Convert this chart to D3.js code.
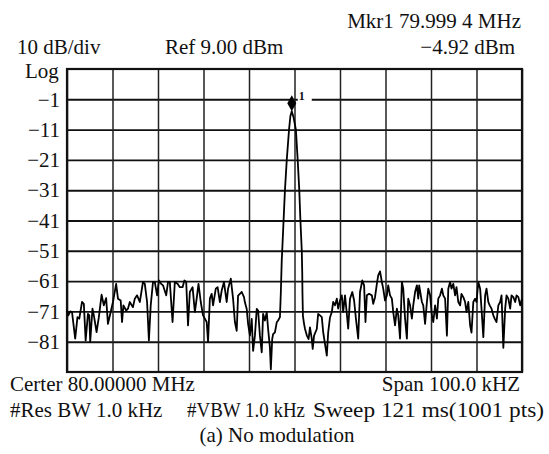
<!DOCTYPE html>
<html>
<head>
<meta charset="utf-8">
<script src="https://cdn.jsdelivr.net/npm/d3@7"></script>
<style>
  html, body { margin: 0; padding: 0; background: #fff; }
  svg { display: block; }
  text { font-family: "Liberation Serif", "Times New Roman", serif; fill: #111; }
</style>
</head>
<body>
<svg id="chart" width="549" height="454"></svg>
<script>
// ---- data (frequency offset from centre, kHz ; level, dBm) ----
const freqOffsetKHz = [
  -50.0,-49.7,-49.3,-48.9,-48.2,-47.7,-47.3,-46.7,-46.3,-45.9,-45.4,-45.1,-44.9,-44.4,-44.1,-43.5,-43.0,-42.4,-41.9,-41.4,
  -41.0,-40.4,-39.9,-39.2,-38.8,-38.2,-37.9,-37.6,-37.0,-36.6,-36.2,-35.5,-35.1,-34.6,-34.0,-33.3,-32.9,-32.4,-32.0,-31.6,
  -31.1,-30.7,-30.2,-29.8,-29.3,-28.9,-28.2,-27.8,-27.4,-26.8,-26.3,-25.7,-25.2,-24.6,-24.2,-23.8,-23.4,-23.0,-22.4,-21.9,
  -21.5,-21.1,-20.6,-20.1,-19.7,-19.3,-19.0,-18.6,-18.2,-17.9,-17.3,-16.9,-16.4,-16.0,-15.5,-14.9,-14.6,-14.0,-13.5,-13.1,
  -12.7,-12.4,-12.0,-11.6,-11.1,-10.9,-10.5,-10.2,-9.8,-9.4,-9.1,-8.7,-8.3,-8.0,-7.6,-7.2,-6.9,-6.5,-6.1,-5.8,
  -5.4,-5.2,-4.9,-4.7,-4.3,-3.9,-3.6,-3.2,-3.0,
  -2.8,-2.7,-2.4,-2.1,-1.7,-1.2,-0.9,-0.6,-0.2,0.3,0.7,1.05,1.3,1.6,1.7,1.75,1.85,
  2.1,2.3,2.7,3.1,3.4,3.8,4.0,4.3,4.9,5.2,5.6,6.0,6.3,6.7,7.1,7.4,7.8,8.2,8.5,8.9,
  9.3,9.6,10.0,10.4,10.7,11.1,11.5,11.8,12.2,12.7,13.1,13.5,14.0,14.4,14.9,15.3,15.6,15.9,16.4,17.0,
  17.3,17.7,18.1,18.4,18.8,19.2,19.5,19.9,20.3,20.6,21.0,21.4,21.7,22.1,22.5,22.8,23.2,23.6,23.9,24.3,
  24.7,25.0,25.4,25.8,26.1,26.5,26.9,27.2,27.4,28.0,28.3,28.7,29.1,29.4,29.8,30.2,30.5,30.9,31.3,31.6,
  32.0,32.4,32.7,33.1,33.5,33.8,34.2,34.5,34.9,35.3,35.6,36.0,36.4,36.7,37.1,37.5,37.8,38.2,38.6,38.9,
  39.3,39.7,40.0,40.4,40.8,41.1,41.5,41.9,42.2,42.6,42.9,43.3,43.7,44.0,44.4,44.8,45.2,45.5,45.9,46.3,
  46.6,47.0,47.4,47.7,48.1,48.5,48.8,49.2,49.6,50.0
];
const levelDBm = [
  -70.7,-72.3,-71.0,-71.2,-80.0,-72.9,-73.4,-67.9,-68.5,-80.6,-71.8,-72.3,-81.1,-70.1,-72.3,-77.8,-72.9,-65.5,-69.0,-66.6,
  -75.1,-71.2,-67.9,-61.9,-66.8,-67.4,-74.5,-69.0,-70.7,-70.1,-67.9,-69.6,-66.8,-65.7,-67.9,-61.3,-61.9,-67.9,-80.6,-69.0,
  -61.3,-61.3,-65.7,-60.8,-61.9,-62.4,-65.7,-61.3,-61.3,-74.5,-61.3,-61.9,-63.0,-63.0,-60.8,-61.3,-75.6,-64.6,-63.0,-71.2,
  -66.8,-61.9,-67.9,-72.3,-73.4,-74.5,-81.1,-66.8,-65.2,-69.0,-63.5,-63.0,-67.9,-64.1,-61.3,-67.9,-63.5,-60.2,-66.8,-74.5,
  -77.4,-65.8,-65.2,-64.6,-66.3,-68.0,-70.2,-75.1,-79.0,-73.5,-84.0,-79.0,-70.2,-70.7,-79.0,-84.5,-71.8,-74.0,-71.3,-76.8,
  -82.9,-90.1,-80.1,-78.5,-77.9,-74.6,-74.0,-72.9,-64.6,
  -54.0,-51.0,-41.0,-31.0,-21.0,-11.0,-6.5,-4.92,-7.0,-11.0,-21.0,-31.0,-41.0,-51.0,-58.0,-65.0,-72.5,
  -75.1,-76.7,-78.9,-80.1,-76.3,-80.1,-83.4,-79.0,-76.8,-71.8,-72.3,-72.9,-77.8,-81.7,-85.6,-78.0,-73.0,-71.2,-67.9,-69.0,
  -66.8,-70.1,-67.4,-65.7,-71.2,-65.7,-71.8,-76.7,-66.8,-64.6,-67.4,-73.4,-80.0,-64.6,-60.8,-62.4,-74.5,-65.7,-65.2,-65.7,
  -68.5,-66.3,-61.9,-59.1,-57.8,-61.3,-63.5,-67.4,-65.7,-62.4,-65.7,-66.8,-71.2,-75.6,-70.1,-72.3,-80.0,-61.3,-63.5,-73.4,
  -80.0,-66.8,-69.0,-73.4,-69.0,-64.6,-62.4,-66.8,-62.4,-67.9,-69.0,-75.1,-67.9,-63.5,-65.7,-72.3,-74.5,-69.0,-73.4,-66.8,
  -65.7,-63.5,-65.7,-66.8,-79.0,-63.5,-61.3,-63.5,-61.9,-65.7,-63.0,-67.9,-69.0,-65.2,-66.3,-67.9,-71.2,-67.9,-75.6,-78.0,
  -67.9,-66.8,-67.9,-61.3,-63.5,-70.1,-79.5,-65.7,-63.5,-67.9,-69.0,-70.1,-72.3,-73.4,-74.5,-69.0,-67.9,-65.7,-83.0,-70.1,
  -65.7,-66.8,-70.1,-65.7,-66.3,-67.9,-65.7,-66.3,-69.0,-66.8
];
const xTickValues = [-50,-40,-30,-20,-10,0,10,20,30,40,50];
const yTickValues = [-1,-11,-21,-31,-41,-51,-61,-71,-81];
const yTickLabels = ["−1","−11","−21","−31","−41","−51","−61","−71","−81"];
const refLevel = 9, bottomLevel = -91;
const markerOffsetKHz = -0.6, markerLevel = -4.92;

// ---- layout ----
const svg = d3.select("#chart");
const L = 67, R = 522, T = 69, B = 372;
const x = d3.scaleLinear().domain([-50, 50]).range([L, R]);
const y = d3.scaleLinear().domain([bottomLevel, refLevel]).range([B, T]);

svg.append("rect").attr("width", 549).attr("height", 454).attr("fill", "#fff");

// horizontal grid + labels
const yAxis = d3.axisLeft(y).tickValues(yTickValues)
  .tickSize(-(R - L)).tickPadding(7)
  .tickFormat((d, i) => yTickLabels[i]);
const gy = svg.append("g").attr("transform", `translate(${L},0)`).call(yAxis);
gy.select(".domain").remove();
gy.selectAll(".tick line").attr("stroke", "#111").attr("stroke-width", 1.9);
gy.selectAll(".tick text").attr("font-size", 21).attr("font-family", "Liberation Serif").attr("fill", "#111");

// vertical grid
const xAxis = d3.axisBottom(x).tickValues(xTickValues).tickSize(-(B - T)).tickFormat("");
const gx = svg.append("g").attr("transform", `translate(0,${B})`).call(xAxis);
gx.select(".domain").remove();
gx.selectAll(".tick line").attr("stroke", "#222").attr("stroke-width", 1.5);

// border
svg.append("rect").attr("x", L).attr("y", T).attr("width", R - L).attr("height", B - T)
  .attr("fill", "none").attr("stroke", "#111").attr("stroke-width", 2.2);

// trace
const pts = freqOffsetKHz.map((f, i) => [f, levelDBm[i]]);
const line = d3.line().x(d => x(d[0])).y(d => y(d[1]));
svg.append("path").datum(pts).attr("d", line)
  .attr("fill", "none").attr("stroke", "#000").attr("stroke-width", 1.8)
  .attr("stroke-linejoin", "round");

// marker
const mx = x(markerOffsetKHz), my = y(markerLevel);
svg.append("path")
  .attr("d", `M${mx},${my - 16} L${mx + 4.5},${my - 8} L${mx},${my} L${mx - 4.5},${my - 8} Z`)
  .attr("fill", "#000");
svg.append("rect").attr("x", mx + 6).attr("y", my - 22).attr("width", 14).attr("height", 13).attr("fill", "#fff");
svg.append("text").attr("x", mx + 7).attr("y", my - 11).attr("font-size", 12)
  .attr("font-family", "Liberation Sans").attr("font-weight", "bold").text("1");

// texts
const t = (s, xx, yy, anchor, len) => {
  const el = svg.append("text").attr("x", xx).attr("y", yy)
    .attr("text-anchor", anchor || "start").attr("font-size", 21).text(s);
  if (len) el.attr("textLength", len).attr("lengthAdjust", "spacingAndGlyphs");
  return el;
};
t("Mkr1 79.999 4 MHz", 521, 28, "end");
t("10 dB/div", 17, 54, "start");
t("Ref 9.00 dBm", 165, 54, "start");
t("−4.92 dBm", 515, 54, "end");
t("Log", 25, 78, "start");
t("Certer 80.00000 MHz", 10, 391, "start");
t("Span 100.0 kHZ", 520, 391, "end");
t("#Res BW 1.0 kHz", 10, 417, "start");
t("#VBW 1.0 kHz", 187, 417, "start", 118);
t("Sweep 121 ms(1001 pts)", 313, 417, "start", 231);
t("(a) No modulation", 277, 442, "middle");
</script>
</body>
</html>
